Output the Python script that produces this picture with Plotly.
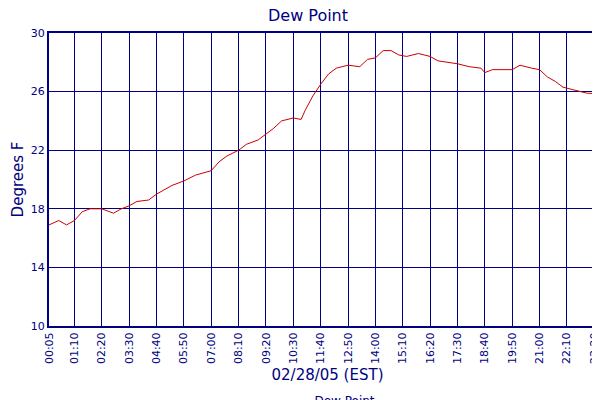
import plotly.graph_objects as go

times = ["00:05","00:30","00:50","01:10","01:30","01:50","02:20","02:50","03:10","03:30","03:50","04:20","04:40","05:00","05:20","05:50","06:20","07:00","07:20","07:40","08:10","08:30","09:00","09:20","09:40","10:00","10:30","10:50","11:00","11:20","11:40","12:00","12:20","12:50","13:20","13:40","14:00","14:20","14:40","15:00","15:20","15:50","16:20","16:40","17:30","18:00","18:30","18:40","19:00","19:50","20:10","20:40","21:00","21:20","21:40","22:00","22:30","23:00","23:50"]
dew = [16.9,17.2,16.9,17.2,17.8,18.0,18.0,17.7,18.0,18.2,18.5,18.6,19.0,19.3,19.6,19.9,20.3,20.6,21.2,21.6,22.0,22.4,22.7,23.1,23.5,24.0,24.2,24.1,24.7,25.7,26.5,27.2,27.6,27.8,27.7,28.2,28.3,28.8,28.8,28.5,28.4,28.6,28.4,28.1,27.9,27.7,27.6,27.3,27.5,27.5,27.8,27.6,27.5,27.0,26.7,26.3,26.1,25.9,25.8]
tick_labels = ["00:05","01:10","02:20","03:30","04:40","05:50","07:00","08:10","09:20","10:30","11:40","12:50","14:00","15:10","16:20","17:30","18:40","19:50","21:00","22:10","23:20","23:50"]

def mins(t):
    h, m = t.split(":")
    return int(h) * 60 + int(m)

navy = "#000080"
fig = go.Figure(go.Scatter(x=[mins(t) for t in times], y=dew, mode="lines",
                           line=dict(color="#cc0000", width=1), name="Dew Point"))
fig.update_layout(
    width=600, height=400, plot_bgcolor="white", paper_bgcolor="white",
    margin=dict(l=41, r=2, t=25, b=82, autoexpand=False),
    font=dict(family="DejaVu Sans", color=navy, size=11),
    title=dict(text="Dew Point", x=0.5, y=0.995, yanchor="top", font=dict(size=16, color=navy)),
    showlegend=True,
    legend=dict(orientation="h", x=0.5, xanchor="center", y=-0.205, yanchor="top", font=dict(size=12, color=navy)),
)
fig.update_xaxes(range=[mins("00:05"), mins("23:50")], tickvals=[mins(t) for t in tick_labels], ticktext=tick_labels,
                 tickangle=-90, showgrid=True, gridcolor=navy, gridwidth=1, showline=True, linecolor=navy, linewidth=2,
                 mirror=True, ticks="", automargin=False, tickfont=dict(size=11, color=navy),
                 title=dict(text="02/28/05 (EST)", font=dict(size=15, color=navy), standoff=6))
fig.update_yaxes(range=[10, 30], tickvals=[10, 14, 18, 22, 26, 30], showgrid=True, gridcolor=navy, gridwidth=1,
                 showline=True, linecolor=navy, linewidth=2, mirror=True, ticks="", zeroline=False, automargin=False,
                 tickfont=dict(size=11, color=navy),
                 title=dict(text="Degrees F", font=dict(size=15, color=navy), standoff=4))
fig.write_html("out.html")
